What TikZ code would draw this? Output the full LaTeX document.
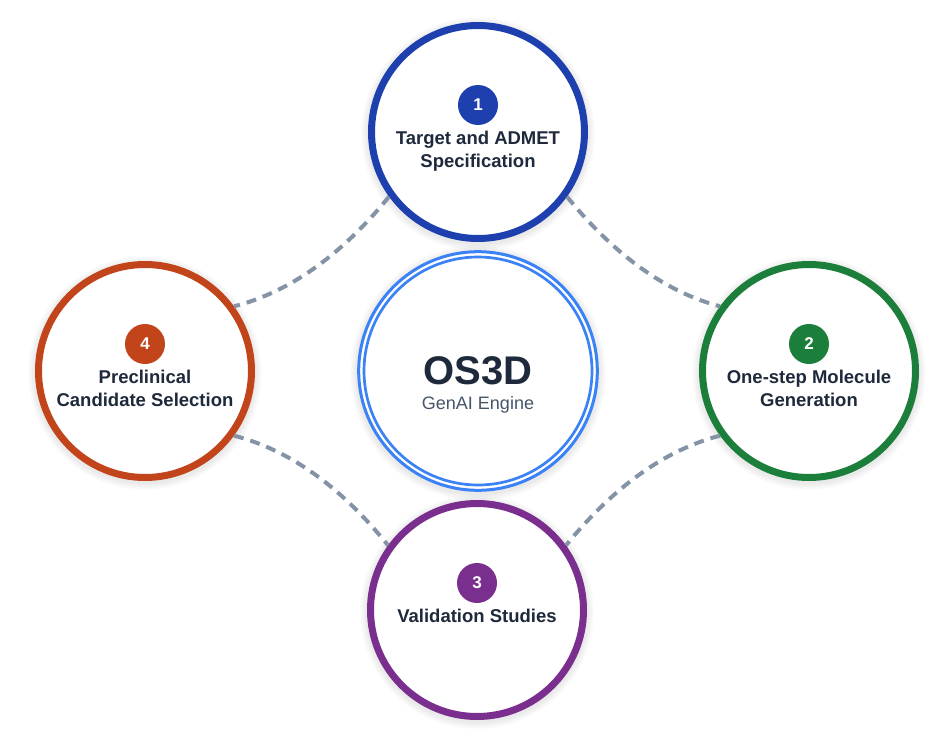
\documentclass[tikz,border=0pt]{standalone}
\usepackage{fontspec}
\setmainfont{Liberation Sans}
\usetikzlibrary{calc}
\definecolor{cone}{HTML}{1E40AF}
\definecolor{ctwo}{HTML}{1B7F3B}
\definecolor{cthree}{HTML}{7A2E8E}
\definecolor{cfour}{HTML}{C2441A}
\definecolor{cblue}{HTML}{3B82F6}
\definecolor{textc}{HTML}{1E293B}
\definecolor{subc}{HTML}{475569}
\definecolor{dashc}{HTML}{8593A6}
\begin{document}
\begin{tikzpicture}[x=1pt,y=-1pt,
  ring/.style={circle, draw=#1, line width=7pt, fill=white, minimum size=213pt, inner sep=0pt},
  badge/.style={circle, fill=#1, minimum size=40pt, inner sep=0pt, text=white, font=\fontsize{17}{20}\selectfont\bfseries},
  title/.style={anchor=base, text=textc, font=\fontsize{18.5}{22}\selectfont\bfseries, inner sep=0pt},
  conn/.style={draw=dashc, line width=4pt, dash pattern=on 10pt off 7pt},
  halo/.style={fill=black, fill opacity=0.012, draw=none}
]
\useasboundingbox (0,0) rectangle (950,744);
\fill[white] (0,0) rectangle (950,744);
% soft shadows
\foreach \cx/\cy/\r in {478/132/110, 145/371/110, 809/371/110, 477/610/110, 478/371/121}{
  \foreach \i in {1,...,7}{
    \fill[halo] (\cx,\cy+2) circle[radius=\r+\i];
  }
}
% center engine
\node[circle, draw=cblue, line width=3pt, fill=white, minimum size=238.6pt, inner sep=0pt] (c) at (478,371) {};
\node[circle, draw=cblue, line width=2.7pt, minimum size=228pt, inner sep=0pt] (ci) at (478,371) {};
\node[anchor=base, inner sep=0pt, text=textc, font=\fontsize{40}{44}\selectfont\bfseries] (os) at (478,384.5) {OS3D};
\node[anchor=base, inner sep=0pt, text=subc, font=\fontsize{18}{21}\selectfont] (gen) at (478,409.5) {GenAI Engine};
% step circles
\node[ring=cone] (t) at (478,132) {};
\node[badge=cone] (tn) at (478,105) {1};
\node[title] (tl1) at (478,144.5) {Target and ADMET};
\node[title] (tl2) at (478,167) {Specification};

\node[ring=ctwo] (r) at (809,371) {};
\node[badge=ctwo] (rn) at (809,344) {2};
\node[title] (rl1) at (809,383.5) {One-step Molecule};
\node[title] (rl2) at (809,406) {Generation};

\node[ring=cthree] (b) at (477,610) {};
\node[badge=cthree] (bn) at (477,583) {3};
\node[title] (bl1) at (477,622.5) {Validation Studies};

\node[ring=cfour] (l) at (145,371) {};
\node[badge=cfour] (ln) at (145,344) {4};
\node[title] (ll1) at (145,383.5) {Preclinical};
\node[title] (ll2) at (145,406) {Candidate Selection};
% control points of the dashed links
\coordinate (qtl) at (317,285);
\coordinate (qtr) at (639,285);
\coordinate (qbl) at (317,457);
\coordinate (qbr) at (638,457);
\draw[conn] (t.216) .. controls ($(t.216)!0.6667!(qtl)$) and ($(l.36)!0.6667!(qtl)$) .. (l.36);
\draw[conn] (t.324) .. controls ($(t.324)!0.6667!(qtr)$) and ($(r.144)!0.6667!(qtr)$) .. (r.144);
\draw[conn] (l.-36) .. controls ($(l.-36)!0.6667!(qbl)$) and ($(b.144)!0.6667!(qbl)$) .. (b.144);
\draw[conn] (r.216) .. controls ($(r.216)!0.6667!(qbr)$) and ($(b.36)!0.6667!(qbr)$) .. (b.36);
\end{tikzpicture}
\end{document}
